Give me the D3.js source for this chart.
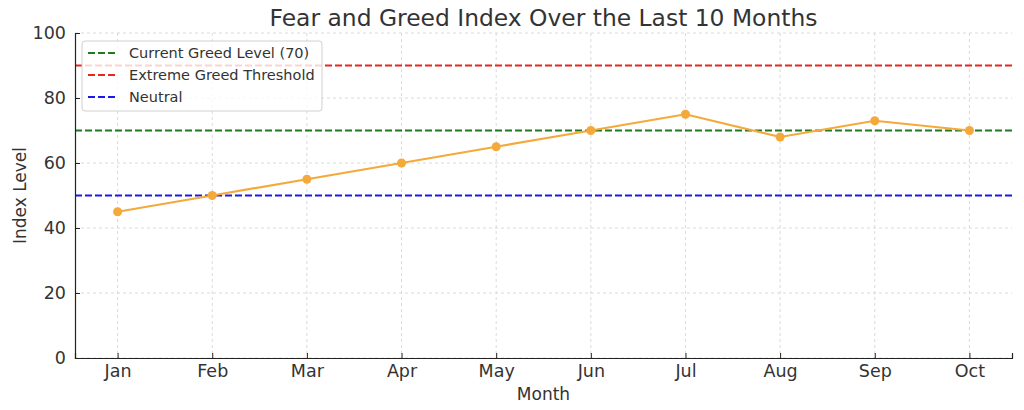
<!DOCTYPE html>
<html>
<head>
<meta charset="utf-8">
<script src="https://cdn.jsdelivr.net/npm/d3@7"></script>
<style>
  body { margin: 0; background: #fff; }
  svg, svg text { font-family: "DejaVu Sans", sans-serif; }
</style>
</head>
<body>
<script>
const months = ["Jan", "Feb", "Mar", "Apr", "May", "Jun", "Jul", "Aug", "Sep", "Oct"]
const indexValues = [45, 50, 55, 60, 65, 70, 75, 68, 73, 70]
const yTicks = [0, 20, 40, 60, 80, 100]
const refNames = ["Current Greed Level (70)", "Extreme Greed Threshold", "Neutral"]
const refValues = [70, 90, 50]
const refColors = ["#1f7a1f", "#e8261e", "#1a1ae6"]

const w = 1024, h = 410
const m = { left: 75, right: 12, top: 33, bottom: 52 }
const textColor = "#333333"

const svg = d3.select("body").append("svg")
  .attr("width", w)
  .attr("height", h)

const xScale = d3.scaleLinear()
  .domain([-0.45, months.length - 1 + 0.45])
  .range([m.left, w - m.right])
const yScale = d3.scaleLinear()
  .domain([0, 100])
  .range([h - m.bottom, m.top])

// grid
svg.append("g").selectAll("line")
  .data(months)
  .enter().append("line")
  .attr("x1", (d, i) => xScale(i)).attr("x2", (d, i) => xScale(i))
  .attr("y1", m.top).attr("y2", h - m.bottom)
  .attr("stroke", "#d0d0d0").attr("stroke-width", 0.8)
  .attr("stroke-dasharray", "3,3")
svg.append("g").selectAll("line")
  .data(yTicks)
  .enter().append("line")
  .attr("x1", m.left).attr("x2", w - m.right)
  .attr("y1", d => yScale(d)).attr("y2", d => yScale(d))
  .attr("stroke", "#d0d0d0").attr("stroke-width", 0.8)
  .attr("stroke-dasharray", "3,3")

// reference lines
svg.append("g").selectAll("line")
  .data(refValues)
  .enter().append("line")
  .attr("x1", m.left).attr("x2", w - m.right)
  .attr("y1", d => yScale(d)).attr("y2", d => yScale(d))
  .attr("stroke", (d, i) => refColors[i])
  .attr("stroke-width", 2)
  .attr("stroke-dasharray", "7,3")

// data line
const line = d3.line()
  .x((d, i) => xScale(i))
  .y(d => yScale(d))
svg.append("path")
  .datum(indexValues)
  .attr("d", line)
  .attr("fill", "none")
  .attr("stroke", "#f4a93b")
  .attr("stroke-width", 2.2)
svg.selectAll("circle.pt")
  .data(indexValues)
  .enter().append("circle")
  .attr("class", "pt")
  .attr("cx", (d, i) => xScale(i))
  .attr("cy", d => yScale(d))
  .attr("r", 4.5)
  .attr("fill", "#f4a93b")

// axes, ticks point inward
const xAxis = d3.axisBottom(xScale)
  .tickValues(d3.range(months.length))
  .tickFormat(i => months[i])
  .tickSizeOuter(0)
  .tickSize(-5)
  .tickPadding(7)
const yAxis = d3.axisLeft(yScale)
  .tickValues(yTicks)
  .tickSizeOuter(0)
  .tickSize(-5)
  .tickPadding(9)

const gx = svg.append("g")
  .attr("transform", "translate(0," + (h - m.bottom) + ")")
  .call(xAxis)
const gy = svg.append("g")
  .attr("transform", "translate(" + m.left + ",0)")
  .call(yAxis)
for (const g of [gx, gy]) {
  g.attr("font-family", null)
  g.selectAll("text").style("font-size", "17.5px").attr("fill", textColor)
  g.selectAll("line").attr("stroke", "#222")
  g.select(".domain").attr("stroke", "#222").attr("stroke-width", 1.2)
}

// titles
svg.append("text")
  .attr("x", (m.left + w - m.right) / 2)
  .attr("y", 26)
  .attr("text-anchor", "middle")
  .style("font-size", "23.4px")
  .attr("fill", textColor)
  .text("Fear and Greed Index Over the Last 10 Months")
svg.append("text")
  .attr("x", (m.left + w - m.right) / 2)
  .attr("y", 400)
  .attr("text-anchor", "middle")
  .style("font-size", "17px")
  .attr("fill", textColor)
  .text("Month")
svg.append("text")
  .attr("transform", "translate(26," + ((m.top + h - m.bottom) / 2) + ") rotate(-90)")
  .attr("text-anchor", "middle")
  .style("font-size", "17px")
  .attr("fill", textColor)
  .text("Index Level")

// legend
const lg = svg.append("g").attr("transform", "translate(82,41)")
lg.append("rect")
  .attr("width", 240).attr("height", 70)
  .attr("rx", 3)
  .attr("fill", "#ffffff").attr("fill-opacity", 0.8)
  .attr("stroke", "#d0d0d0")
lg.selectAll("line")
  .data(refNames)
  .enter().append("line")
  .attr("x1", 6).attr("x2", 36)
  .attr("y1", (d, i) => 12 + i * 22).attr("y2", (d, i) => 12 + i * 22)
  .attr("stroke", (d, i) => refColors[i])
  .attr("stroke-width", 2)
  .attr("stroke-dasharray", "7,3")
lg.selectAll("text")
  .data(refNames)
  .enter().append("text")
  .attr("x", 47)
  .attr("y", (d, i) => 12 + i * 22)
  .attr("dy", "0.35em")
  .style("font-size", "14.5px")
  .attr("fill", textColor)
  .text(d => d)
</script>
</body>
</html>
